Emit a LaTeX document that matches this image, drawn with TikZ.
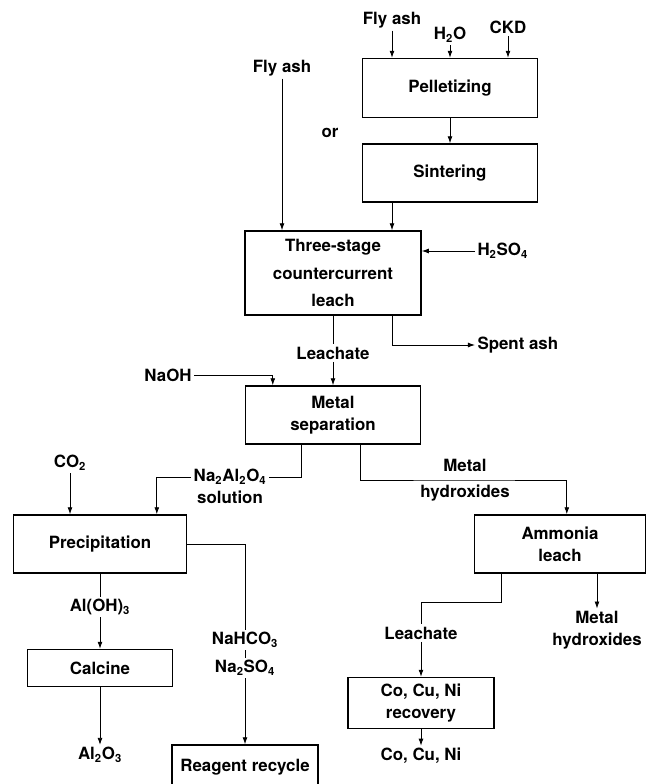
\documentclass[tikz,border=0pt]{standalone}
\usepackage{fontspec}
\setmainfont{TeX Gyre Heros}
\usetikzlibrary{arrows.meta}

\begin{document}
\begin{tikzpicture}[x=0.025cm,y=-0.025cm,line width=0.6pt,
    every node/.style={font=\bfseries\fontsize{12}{15.5}\selectfont},
    box/.style={draw,line width=1pt,inner sep=0pt,align=center},
    lbl/.style={inner sep=1.5pt,align=center},
    arr/.style={-{Latex[length=5pt,width=3.5pt]}}]
        \clip (0,0) rectangle (646,784);
        % feed and pretreatment
        \node[lbl] (fa1) at (392,20) {Fly ash};
        \node[lbl] (h2o) at (450,35) {H\textsubscript{2}O};
        \node[lbl] (ckd) at (508,27) {CKD};
        \node[box,minimum width=4.375cm,minimum height=1.475cm] (pel) at (450,88) {Pelletizing};
        \node[box,minimum width=4.375cm,minimum height=1.45cm] (sin) at (450,173) {Sintering};
        \node[lbl] (fa2) at (282,68) {Fly ash};
        \node[lbl] (ortxt) at (330,133) {or};
        % leach
        \node[box,minimum width=4.4cm,minimum height=2.1cm] (leach) at (333,273) {Three-stage\\[4pt]countercurrent\\[4pt]leach};
        \node[lbl,anchor=west] (h2so4) at (475,251) {H\textsubscript{2}SO\textsubscript{4}};
        \node[lbl,anchor=west] (spent) at (475,345) {Spent ash};
        \node[lbl] (lea1) at (333,353) {Leachate};
        \node[lbl] (naoh) at (168,375) {NaOH};
        \node[box,minimum width=4.375cm,minimum height=1.45cm] (msep) at (333,415) {Metal\\separation};
        % aluminium branch
        \node[lbl] (na2) at (230,477) {Na\textsubscript{2}Al\textsubscript{2}O\textsubscript{4}};
        \node[lbl] (sol) at (230,497) {solution};
        \node[lbl] (co2) at (70,463) {CO\textsubscript{2}};
        \node[box,minimum width=4.325cm,minimum height=1.45cm] (prec) at (100,544) {Precipitation};
        \node[lbl] (aloh) at (100,607) {Al(OH)\textsubscript{3}};
        \node[box,minimum width=3.625cm,minimum height=0.925cm] (calc) at (100,668) {Calcine};
        \node[lbl] (al2o3) at (100,755) {Al\textsubscript{2}O\textsubscript{3}};
        \node[box,minimum width=3.65cm,minimum height=1.1cm] (rr) at (245,767) {Reagent recycle};
        % metals branch
        \node[lbl] (mh1) at (465,480) {Metal\\[3pt]hydroxides};
        \node[box,minimum width=4.275cm,minimum height=1.45cm] (amm) at (560,544) {Ammonia\\leach};
        \node[lbl] (lea2) at (421,633) {Leachate};
        \node[lbl] (mh2) at (597,630) {Metal\\hydroxides};
        \node[box,minimum width=3.65cm,minimum height=1.275cm] (rec) at (421,703) {Co, Cu, Ni\\recovery};
        \node[lbl] (cocuni) at (421,756) {Co, Cu, Ni};

        % connectors
        \draw[arr] (fa1) -- (fa1 |- pel.north);
        \draw[arr] (h2o) -- (h2o |- pel.north);
        \draw[arr] (ckd) -- (ckd |- pel.north);
        \draw[arr] (pel) -- (sin);
        \draw[arr] (fa2) -- (fa2 |- leach.north);
        \draw[arr] (sin.south -| fa1) -- (leach.north -| fa1);
        \draw[arr] (h2so4.west) -- (leach.east |- h2so4.west);
        \draw[arr] (leach.south -| fa1) |- (spent.west);
        \draw (leach.south) -- (lea1.north);
        \draw[arr] (lea1.south) -- (msep.north);
        \draw[arr] (naoh.east) -| ([xshift=0.7cm]msep.north west);
        \draw ([xshift=1.425cm]msep.south west) |- (na2.east);
        \draw[arr] (na2.west) -| ([xshift=3.6cm]prec.north west);
        \draw[arr] (co2) -- (co2 |- prec.north);
        \draw[arr] ([xshift=2.9cm]msep.south west) |- (mh1.center) -| ([xshift=2.325cm]amm.north west);
        \draw (prec.south) -- (aloh.north);
        \draw[arr] (aloh.south) -- (calc.north);
        \draw[arr] (calc.south) -- (al2o3.north);
        \draw[arr] (prec.east) -| (rr.north);
        \node[lbl,fill=white] (nahco) at (245,640) {NaHCO\textsubscript{3}};
        \node[lbl,fill=white] (naso) at (245,668) {Na\textsubscript{2}SO\textsubscript{4}};
        \draw ([xshift=0.7cm]amm.south west) -- ++(0,29) -| (lea2.north);
        \draw[arr] (lea2.south) -- (rec.north);
        \draw[arr] (mh2 |- amm.south) -- (mh2.north);
        \draw[arr] (rec.south) -- (cocuni.north);
\end{tikzpicture}
\end{document}
